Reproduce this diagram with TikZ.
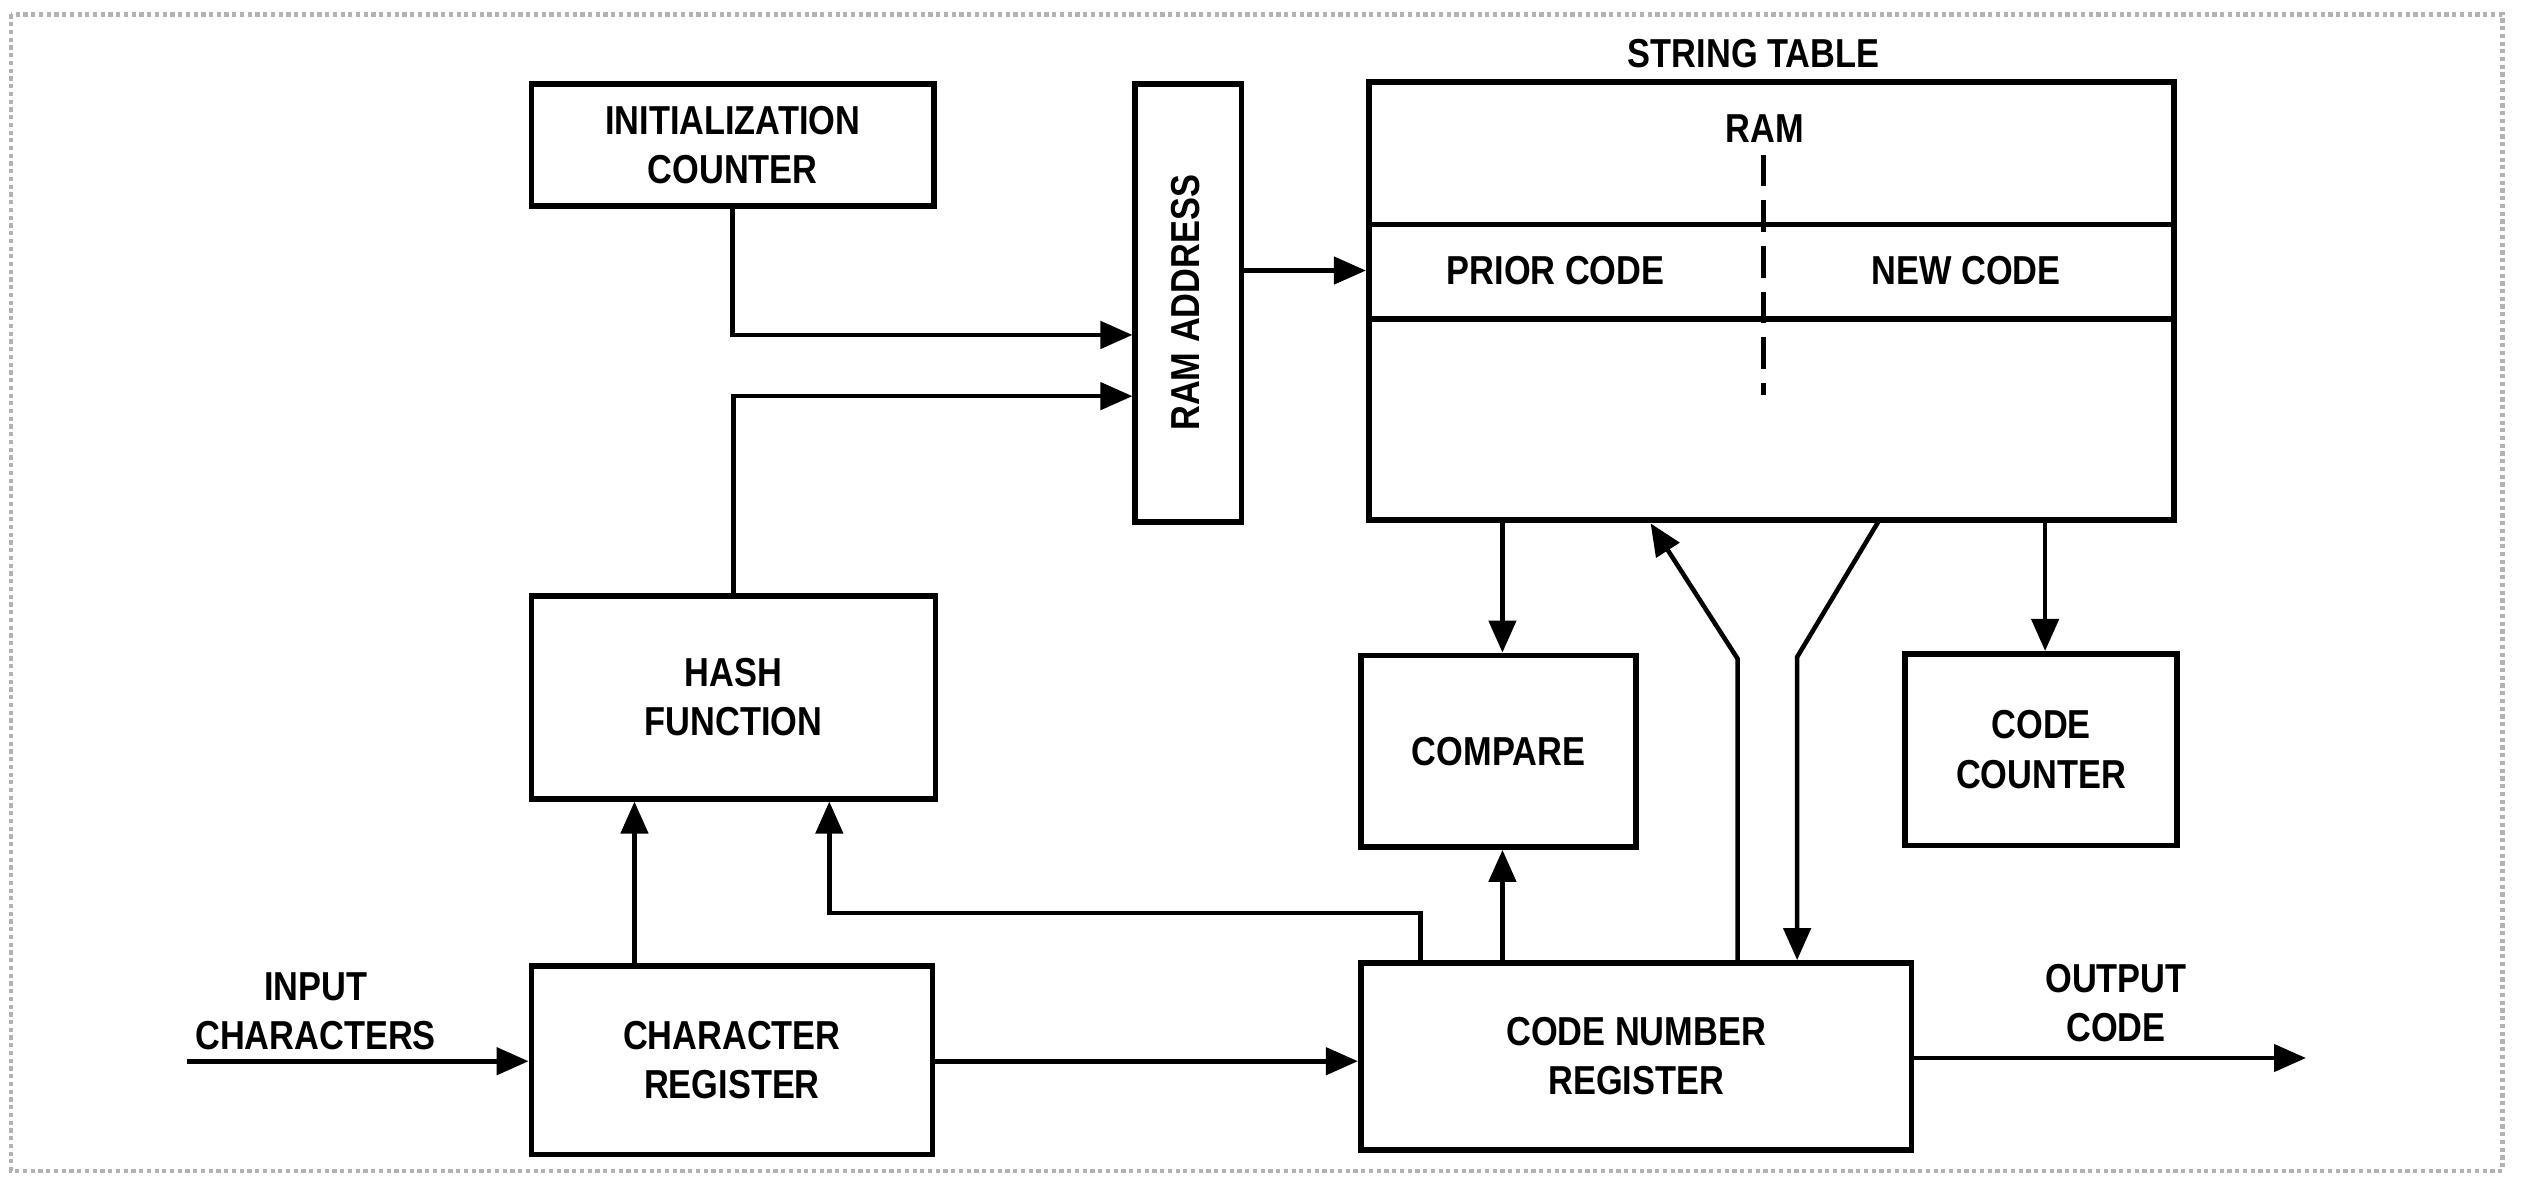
\documentclass[tikz,border=0pt]{standalone}
\usepackage{fontspec}
\setmainfont{Liberation Sans}[FakeStretch=0.85]
\usetikzlibrary{arrows.meta}
\newcommand\diaglbl{\fontsize{11.5}{14}\selectfont\bfseries}
\def\U{0.016103cm}
\begin{document}
\begin{tikzpicture}[x=\U,y=-\U,
  box/.style={draw, line width=1.6pt, rectangle, inner sep=0pt, align=center, font=\diaglbl},
  lbl/.style={inner sep=0pt, align=center, font=\diaglbl},
  arr/.style={line width=1.3pt, -{Triangle[length=0.32cm,width=0.27cm]}},
  frame/.style={draw=gray!60, line width=1.2pt, densely dotted}]
\useasboundingbox (0,0) rectangle (1568,732);
\draw[frame] (7,9) rectangle (1554,727);

% blocks
\node[box, minimum width=250*\U, minimum height=76*\U] (init) at (455,90) {INITIALIZATION\\COUNTER};
\node[box, minimum width=66*\U, minimum height=272*\U] (ramaddr) at (738,188) {};
\node[lbl, rotate=90] (ramaddrlbl) at (736,188) {RAM ADDRESS};
\node[box, minimum width=500*\U, minimum height=272*\U] (strtab) at (1100,187) {};
\node[box, minimum width=251*\U, minimum height=126*\U] (hash) at (455.5,433) {HASH\\FUNCTION};
\node[box, minimum width=249*\U, minimum height=117*\U] (charreg) at (454.5,658.5) {CHARACTER\\REGISTER};
\node[box, minimum width=171*\U, minimum height=119*\U] (compare) at (930.5,466.5) {COMPARE};
\node[box, minimum width=169*\U, minimum height=119*\U] (codecnt) at (1267.5,465.5) {CODE\\COUNTER};
\node[box, minimum width=342*\U, minimum height=116*\U] (cnr) at (1016,656) {CODE NUMBER\\REGISTER};

% string table internals
\coordinate (h1) at (0,139.5);
\coordinate (h2) at (0,198);
\draw[line width=1.6pt] (strtab.west |- h1) -- (strtab.east |- h1);
\draw[line width=1.6pt] (strtab.west |- h2) -- (strtab.east |- h2);
\coordinate (dtop) at (1095,96);
\coordinate (dbot) at (1095,245);
\draw[line width=1.5pt, dash pattern=on 9pt off 4pt] (dtop) -- (dbot);
\node[lbl] (sttitle) at (1089,33) {STRING TABLE};
\node[lbl] (ramlbl) at (1096,80) {RAM};
\node[lbl] (priorlbl) at (966,168) {PRIOR CODE};
\node[lbl] (newlbl) at (1221,168) {NEW CODE};

% helper coordinates
\coordinate (yinit) at (0,208);
\coordinate (yhash) at (0,246);
\coordinate (yram) at (0,168);
\coordinate (xcmp) at (933,0);
\coordinate (xcc) at (1270,0);
\coordinate (xch) at (394,0);
\coordinate (xh2) at (515,0);
\coordinate (yfb) at (0,567);
\coordinate (xfb) at (882,0);
\coordinate (ychr) at (0,659);
\coordinate (yout) at (0,657);

% connectors
\draw[arr] (init.south) |- (ramaddr.west |- yinit);
\draw[arr] (hash.north) |- (ramaddr.west |- yhash);
\draw[arr] (ramaddr.east |- yram) -- (strtab.west |- yram);
\draw[arr] (strtab.south -| xcmp) -- (compare.north -| xcmp);
\draw[arr] (strtab.south -| xcc) -- (codecnt.north -| xcc);
\draw[arr] (cnr.north -| xcmp) -- (compare.south -| xcmp);
\draw[arr] (charreg.north -| xch) -- (hash.south -| xch);
\draw[arr] (cnr.north -| xfb) |- (xh2 |- yfb) -- (hash.south -| xh2);
\draw[arr] (charreg.east |- ychr) -- (cnr.west |- ychr);

% Y-shaped pair
\coordinate (yl1) at (1079,409);
\coordinate (yl2) at (1025,325);
\coordinate (yr0) at (1167,323);
\coordinate (yr1) at (1116,408);
\draw[arr] (cnr.north -| yl1) -- (yl1) -- (yl2);
\draw[arr] (yr0) -- (yr1) -- (cnr.north -| yr1);

% input / output
\coordinate (inpt) at (116,659);
\coordinate (outpt) at (1432,657);
\draw[arr] (inpt) -- (charreg.west |- inpt);
\draw[arr] (cnr.east |- yout) -- (outpt);
\node[lbl] (inlbl) at (196,628) {INPUT\\CHARACTERS};
\node[lbl] (outlbl) at (1314,623) {OUTPUT\\CODE};
\end{tikzpicture}
\end{document}
